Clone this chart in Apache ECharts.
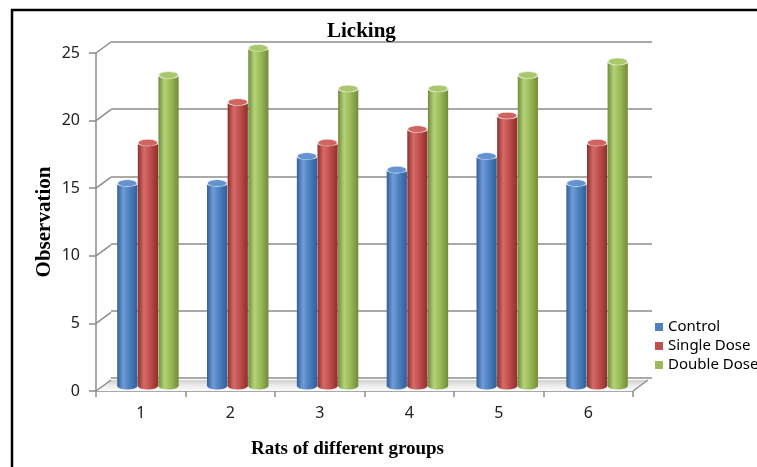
<!DOCTYPE html>
<html>
<head>
<meta charset="utf-8">
<script src="https://cdn.jsdelivr.net/npm/echarts@6/dist/echarts.min.js"></script>
<style>
  html, body { margin: 0; padding: 0; background: #fff; }
  #chart { width: 757px; height: 467px; }
</style>
</head>
<body>
<div id="chart"></div>
<script>
// Licking observations per rat group
const groups = ['1', '2', '3', '4', '5', '6'];
const control = [15, 15, 17, 16, 17, 15];
const singleDose = [18, 21, 18, 19, 20, 18];
const doubleDose = [23, 25, 22, 22, 23, 24];
const yTicks = [0, 5, 10, 15, 20, 25];

const seriesNames = ['Control', 'Single Dose', 'Double Dose'];
const seriesData = [control, singleDose, doubleDose];

// body shading: [edge dark, highlight, mid, edge dark], top cap
const palette = [
  { base: '#4F81BD', dark: '#2f5f98', light: '#6f9cd6', mid: '#4c80c0', top: '#6393d0' },
  { base: '#C0504D', dark: '#8e2e2b', light: '#d46b68', mid: '#c04f4c', top: '#cf6461' },
  { base: '#9BBB59', dark: '#718c39', light: '#b4d27a', mid: '#9abb57', top: '#a9c86b' }
];

const DEPTH_X = 15, DEPTH_Y = -11;

const chart = echarts.init(document.getElementById('chart'));

function cylinderSeries(idx) {
  const col = palette[idx];
  return {
    type: 'custom',
    name: seriesNames[idx],
    xAxisIndex: 1,
    yAxisIndex: 1,
    itemStyle: { color: col.base },
    data: seriesData[idx].map((v, i) => [i, v]),
    z: 5,
    renderItem(params, api) {
      const top = api.coord([api.value(0), api.value(1)]);
      const base = api.coord([api.value(0), 0]);
      const band = api.size([1, 0])[0];
      const w = band * 0.225;
      const cx = top[0] + (idx - 1) * w * 1.02;
      const x0 = cx - w / 2;
      const bodyFill = new echarts.graphic.LinearGradient(0, 0, 1, 0, [
        { offset: 0, color: col.dark },
        { offset: 0.3, color: col.light },
        { offset: 0.6, color: col.mid },
        { offset: 1, color: col.dark }
      ]);
      return {
        type: 'group',
        children: [
          {
            type: 'circle',
            shape: { cx: 0, cy: 0, r: w / 2 },
            x: cx, y: base[1], scaleY: 0.34,
            style: { fill: bodyFill }
          },
          {
            type: 'rect',
            shape: { x: x0, y: top[1], width: w, height: base[1] - top[1] },
            style: { fill: bodyFill }
          },
          {
            type: 'circle',
            shape: { cx: 0, cy: 0, r: w / 2 },
            x: cx, y: top[1], scaleY: 0.34,
            style: { fill: col.top, stroke: '#f4f4f4', lineWidth: 1.6, strokeNoScale: true }
          }
        ]
      };
    }
  };
}

const option = {
  animation: false,
  color: palette.map(p => p.base),
  title: {
    text: 'Licking',
    left: 327,
    top: 21,
    padding: 0,
    textStyle: { fontFamily: 'Liberation Serif', fontWeight: 'bold', fontSize: 21, color: '#000' }
  },
  legend: {
    orient: 'vertical',
    left: 655,
    top: 319,
    padding: 0,
    itemWidth: 8,
    itemHeight: 8,
    itemGap: 3,
    icon: 'rect',
    data: seriesNames,
    textStyle: { fontFamily: 'Noto Sans', fontSize: 15, color: '#000', lineHeight: 16 }
  },
  graphic: [
    {
      type: 'rect',
      shape: { x: 12, y: 10, width: 800, height: 500 },
      style: { fill: 'none', stroke: '#000', lineWidth: 2.5 },
      z: 0
    }
  ],
  grid: [
    { left: 96, top: 53, width: 537, height: 338 },
    { left: 103, top: 48, width: 539, height: 338 },
    { left: 111, top: 42, width: 541, height: 336 }
  ],
  xAxis: [
    {
      gridIndex: 0, type: 'category', data: groups,
      name: 'Rats of different groups', nameLocation: 'middle', nameGap: 49,
      nameTextStyle: {
        fontFamily: 'Liberation Serif', fontWeight: 'bold', fontSize: 19, color: '#000',
        padding: [0, 34, 0, 0]
      },
      axisLine: { lineStyle: { color: '#8c8c8c', width: 1.5 } },
      axisTick: { show: true, length: 6, alignWithLabel: false, lineStyle: { color: '#8c8c8c', width: 1.5 } },
      axisLabel: { margin: 14, fontFamily: 'Noto Sans', fontSize: 16, color: '#222' }
    },
    { gridIndex: 1, type: 'category', data: groups, show: false },
    { gridIndex: 2, type: 'category', data: groups, show: false }
  ],
  yAxis: [
    {
      gridIndex: 0, type: 'value', min: 0, max: 25, interval: 5,
      name: 'Observation', nameLocation: 'middle', nameGap: 41, nameRotate: 90,
      nameMoveOverlap: false,
      nameTextStyle: { fontFamily: 'Liberation Serif', fontWeight: 'bold', fontSize: 21, color: '#000' },
      axisLine: { show: true, lineStyle: { color: '#8c8c8c', width: 1.5 } },
      axisTick: { show: true, length: 7, lineStyle: { color: '#8c8c8c', width: 1.5 } },
      axisLabel: { margin: 16, fontFamily: 'Noto Sans', fontSize: 16, color: '#222' },
      splitLine: { show: false }
    },
    { gridIndex: 1, type: 'value', min: 0, max: 25, interval: 5, show: false },
    {
      gridIndex: 2, type: 'value', min: 0, max: 25, interval: 5,
      axisLine: { show: false }, axisTick: { show: false }, axisLabel: { show: false },
      splitLine: { show: true, lineStyle: { color: '#8c8c8c', width: 1.5 } }
    }
  ],
  series: [
    // floor slab between the front axis and the back wall
    {
      type: 'custom',
      xAxisIndex: 0, yAxisIndex: 0,
      silent: true,
      legendHoverLink: false,
      data: [[0, 0]],
      z: 1,
      renderItem(params, api) {
        const band = api.size([1, 0])[0];
        const p0 = api.coord([0, 0]);
        const p1 = api.coord([groups.length - 1, 0]);
        const xl = p0[0] - band / 2;
        const xr = p1[0] + band / 2;
        const y = p0[1];
        return {
          type: 'group',
          children: [
            {
              type: 'polygon',
              shape: { points: [[xl, y], [xr, y], [xr + DEPTH_X, y + DEPTH_Y], [xl + DEPTH_X, y + DEPTH_Y]] },
              style: {
                fill: new echarts.graphic.LinearGradient(0, 0, 0, 1, [
                  { offset: 0, color: '#d0d0d0' },
                  { offset: 0.5, color: '#ebebeb' },
                  { offset: 1, color: '#fbfbfb' }
                ])
              }
            },
            {
              type: 'line',
              shape: { x1: xr, y1: y, x2: xr + DEPTH_X, y2: y + DEPTH_Y },
              style: { stroke: '#8c8c8c', lineWidth: 1.5 }
            }
          ]
        };
      }
    },
    // side-wall edges joining each front tick to its back gridline
    {
      type: 'custom',
      xAxisIndex: 0, yAxisIndex: 0,
      silent: true,
      data: yTicks.map(v => [0, v]),
      z: 2,
      renderItem(params, api) {
        const band = api.size([1, 0])[0];
        const p = api.coord([0, api.value(1)]);
        const x = p[0] - band / 2;
        return {
          type: 'line',
          shape: { x1: x, y1: p[1], x2: x + DEPTH_X, y2: p[1] + DEPTH_Y },
          style: { stroke: '#8c8c8c', lineWidth: 1.5 }
        };
      }
    },
    cylinderSeries(0),
    cylinderSeries(1),
    cylinderSeries(2)
  ]
};

chart.setOption(option);
</script>
</body>
</html>
